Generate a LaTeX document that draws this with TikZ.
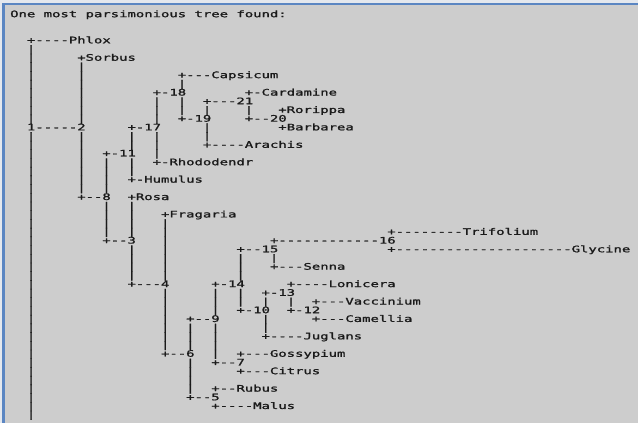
\documentclass[tikz,border=0pt]{standalone}
\usepackage{fontspec}
\usepackage{graphicx}
\setmonofont[AutoFakeBold=1.2]{DejaVu Sans Mono}
\definecolor{panelbg}{HTML}{CDCDCD}
\definecolor{edgeblue}{HTML}{5B86C2}
\definecolor{edgelight}{HTML}{E4E8EE}
\definecolor{ink}{HTML}{1A1A1A}
\newcommand\stretchtxt[1]{\scalebox{1.5467}[1]{#1}}
\newcommand\T[4]{\node[txt] (#1) at ({10+#2*8.38},{43.3+#3*8.707}) {\stretchtxt{#4}};}
\newcommand\B[2]{\node[txt] (b#1-#2) at ({10+#1*8.38},{43.3+#2*8.707}) {\stretchtxt{|}};}
\begin{document}
\begin{tikzpicture}[x=1pt,y=-1pt,
  txt/.style={inner sep=0pt, anchor=base west, text=ink, font=\ttfamily\bfseries\fontsize{9}{9}\selectfont}]
\useasboundingbox (0,0) rectangle (638,423);
\clip (0,0) rectangle (638,423);
\fill[panelbg] (0,0) rectangle (638,423);
\fill[edgelight] (0,0) rectangle (638,2.5);
\fill[edgelight] (0,0) rectangle (2,423);
\fill[edgeblue] (2,2.5) rectangle (638,5);
\fill[edgeblue] (2,2.5) rectangle (4.8,423);
% title
\T{title}{0}{-3}{One most parsimonious tree found:}
% tree rows
\T{phlox}{2}{0}{+----Phlox}
\T{sorbus}{8}{2}{+Sorbus}
\T{capsicum}{20}{4}{+---Capsicum}
\T{n18}{17}{6}{+-18}
\T{cardamine}{28}{6}{+-Cardamine}
\T{n21}{23}{7}{+---21}
\T{rorippa}{32}{8}{+Rorippa}
\T{n19}{20}{9}{+-19}
\T{n20}{28}{9}{+--20}
\T{n1}{2}{10}{1-----2}
\T{n17}{14}{10}{+-17}
\T{barbarea}{32}{10}{+Barbarea}
\T{arachis}{23}{12}{+----Arachis}
\T{n11}{11}{13}{+-11}
\T{rhodo}{17}{14}{+-Rhododendr}
\T{humulus}{14}{16}{+-Humulus}
\T{n8}{8}{18}{+--8}
\T{rosa}{14}{18}{+Rosa}
\T{fragaria}{18}{20}{+Fragaria}
\T{trifolium}{45}{22}{+--------Trifolium}
\T{n3}{11}{23}{+--3}
\T{n16}{31}{23}{+------------16}
\T{n15}{27}{24}{+--15}
\T{glycine}{45}{24}{+---------------------Glycine}
\T{senna}{31}{26}{+---Senna}
\T{n4}{14}{28}{+---4}
\T{n14}{24}{28}{+-14}
\T{lonicera}{33}{28}{+----Lonicera}
\T{n13}{30}{29}{+-13}
\T{vaccinium}{36}{30}{+---Vaccinium}
\T{n10}{27}{31}{+-10}
\T{n12}{33}{31}{+-12}
\T{n9}{21}{32}{+--9}
\T{camellia}{36}{32}{+---Camellia}
\T{juglans}{30}{34}{+----Juglans}
\T{n6}{18}{36}{+--6}
\T{gossypium}{27}{36}{+---Gossypium}
\T{n7}{24}{37}{+--7}
\T{citrus}{27}{38}{+---Citrus}
\T{rubus}{24}{40}{+--Rubus}
\T{n5}{21}{41}{+--5}
\T{malus}{24}{42}{+----Malus}
% vertical bars
\foreach \r in {1,...,9,11,12,...,43} {\B{2}{\r}}
\foreach \r in {3,...,9,11,12,...,17} {\B{8}{\r}}
\foreach \r in {14,...,17,19,20,21,22} {\B{11}{\r}}
\foreach \r in {11,12,14,15,19,20,21,22,24,25,26,27} {\B{14}{\r}}
\foreach \r in {7,8,9,11,12,13} {\B{17}{\r}}
\foreach \r in {21,...,27,29,30,...,35} {\B{18}{\r}}
\foreach \r in {5,7,8} {\B{20}{\r}}
\foreach \r in {33,34,35,37,38,39,40} {\B{21}{\r}}
\foreach \r in {8,10,11} {\B{23}{\r}}
\foreach \r in {29,30,31,33,34,35,36} {\B{24}{\r}}
\foreach \r in {25,26,27,29,30} {\B{27}{\r}}
\foreach \r in {8} {\B{28}{\r}}
\foreach \r in {30,32,33} {\B{30}{\r}}
\foreach \r in {25} {\B{31}{\r}}
\foreach \r in {30} {\B{33}{\r}}
\end{tikzpicture}
\end{document}
